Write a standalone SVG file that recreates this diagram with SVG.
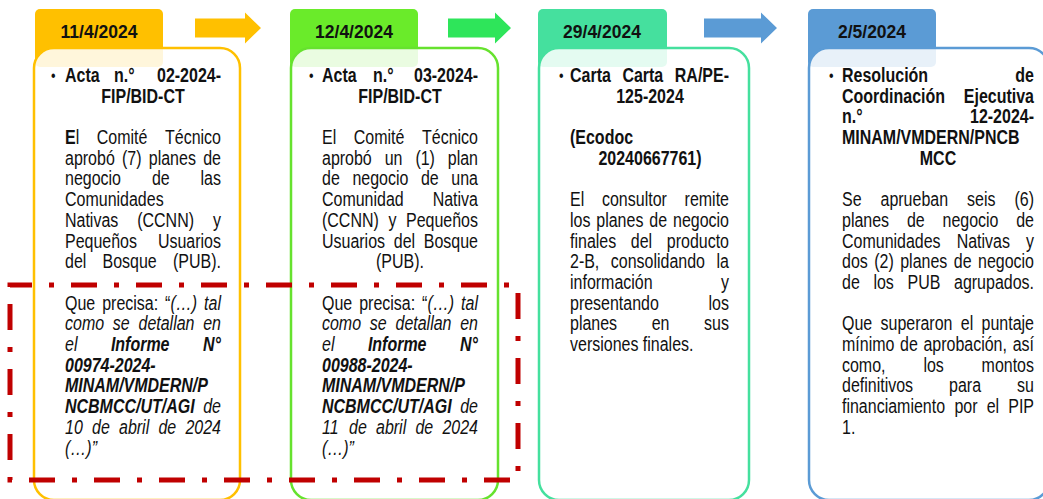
<svg xmlns="http://www.w3.org/2000/svg" width="1043" height="499" viewBox="0 0 1043 499">
<style>
.t{font-family:"Liberation Sans",Arial,sans-serif;font-size:16px;fill:#111}
.h{font-family:"Liberation Sans",Arial,sans-serif;font-size:17.5px;font-weight:bold;fill:#111;text-anchor:middle}
.b{font-weight:bold}
.i{font-style:italic}
.e{text-anchor:end}
.m{text-anchor:middle}
.bul{font-size:13px}
.card{fill:#fff;fill-opacity:0.86;stroke-width:2.5}
</style>
<rect width="1043" height="499" fill="#fff"/>
<g id="connectors">
<polygon points="195,18.5 245,18.5 245,12.5 261,28 245,43.5 245,37.5 195,37.5" fill="#FFC000"/>
<polygon points="448,18.5 495,18.5 495,12.5 511,28 495,43.5 495,37.5 448,37.5" fill="#2EE55A"/>
<polygon points="704,18.5 761,18.5 761,12.5 777,28 761,43.5 761,37.5 704,37.5" fill="#5B9BD5"/>
</g>
<g id="card1">
<rect x="35" y="9" width="128" height="58" rx="5" fill="#FFC000"/>
<text class="h" x="99" y="38">11/4/2024</text>
<rect class="card" x="34" y="48" width="206" height="452" rx="20" stroke="#FFC000"/>
<g transform="scale(1,1.22)">
<text class="t bul" x="51" y="66.4">•</text>
<text class="t b" x="65" y="67.21">Acta</text><text class="t b" x="114" y="67.21">n.°</text><text class="t b e" x="221" y="67.21">02-2024-</text>
<text class="t b m" x="143" y="84.18">FIP/BID-CT</text>
<text class="t" x="65" y="118.11"><tspan class="b">E</tspan>l</text><text class="t" x="96.8" y="118.11">Comité</text><text class="t e" x="221" y="118.11">Técnico</text>
<text class="t" x="65" y="135.08">aprobó</text><text class="t" x="122" y="135.08">(7)</text><text class="t" x="148.8" y="135.08">planes</text><text class="t e" x="221" y="135.08">de</text>
<text class="t" x="65" y="152.05">negocio</text><text class="t" x="151.9" y="152.05">de</text><text class="t e" x="221" y="152.05">las</text>
<text class="t" x="65" y="169.01">Comunidades</text>
<text class="t" x="65" y="185.98">Nativas</text><text class="t" x="137.2" y="185.98">(CCNN)</text><text class="t e" x="221" y="185.98">y</text>
<text class="t" x="65" y="202.95">Pequeños</text><text class="t e" x="221" y="202.95">Usuarios</text>
<text class="t" x="65" y="219.92">del</text><text class="t" x="102.5" y="219.92">Bosque</text><text class="t e" x="221" y="219.92">(PUB).</text>
<text class="t" x="65" y="253.85">Que</text><text class="t" x="102.2" y="253.85">precisa:</text><text class="t" x="165.1" y="253.85">“<tspan class="i">(…)</tspan></text><text class="t i e" x="221" y="253.85">tal</text>
<text class="t i" x="65" y="270.82">como</text><text class="t i" x="112.8" y="270.82">se</text><text class="t i" x="138.5" y="270.82">detallan</text><text class="t i e" x="221" y="270.82">en</text>
<text class="t i" x="65" y="287.78">el</text><text class="t i b" x="110.9" y="287.78">Informe</text><text class="t i b e" x="221" y="287.78">N°</text>
<text class="t i b" x="65" y="304.75">00974-2024-</text>
<text class="t i b" x="65" y="321.72">MINAM/VMDERN/P</text>
<text class="t i b" x="65" y="338.69">NCBMCC/UT/AGI</text><text class="t i e" x="221" y="338.69">de</text>
<text class="t i" x="65" y="355.65">10</text><text class="t i" x="92" y="355.65">de</text><text class="t i" x="119" y="355.65">abril</text><text class="t i" x="158.4" y="355.65">de</text><text class="t i e" x="221" y="355.65">2024</text>
<text class="t i" x="65" y="372.62">(…)”</text>
</g>
</g>
<g id="card2">
<rect x="290" y="9" width="128" height="58" rx="5" fill="#6AEB2A"/>
<text class="h" x="354" y="38">12/4/2024</text>
<rect class="card" x="291" y="48" width="207" height="452" rx="20" stroke="#66E22E"/>
<g transform="scale(1,1.22)">
<text class="t bul" x="309" y="66.4">•</text>
<text class="t b" x="322" y="67.21">Acta</text><text class="t b" x="373" y="67.21">n.°</text><text class="t b e" x="478" y="67.21">03-2024-</text>
<text class="t b m" x="400" y="84.18">FIP/BID-CT</text>
<text class="t" x="322" y="118.11">El</text><text class="t" x="353.8" y="118.11">Comité</text><text class="t e" x="478" y="118.11">Técnico</text>
<text class="t" x="322" y="135.08">aprobó</text><text class="t" x="384.7" y="135.08">un</text><text class="t" x="415.4" y="135.08">(1)</text><text class="t e" x="478" y="135.08">plan</text>
<text class="t" x="322" y="152.05">de</text><text class="t" x="352.4" y="152.05">negocio</text><text class="t" x="420.9" y="152.05">de</text><text class="t e" x="478" y="152.05">una</text>
<text class="t" x="322" y="169.01">Comunidad</text><text class="t e" x="478" y="169.01">Nativa</text>
<text class="t" x="322" y="185.98">(CCNN)</text><text class="t" x="388.4" y="185.98">y</text><text class="t e" x="478" y="185.98">Pequeños</text>
<text class="t" x="322" y="202.95">Usuarios</text><text class="t" x="393.8" y="202.95">del</text><text class="t e" x="478" y="202.95">Bosque</text>
<text class="t m" x="400" y="219.92">(PUB).</text>
<text class="t" x="322" y="253.85">Que</text><text class="t" x="359.2" y="253.85">precisa:</text><text class="t" x="422.1" y="253.85">“<tspan class="i">(…)</tspan></text><text class="t i e" x="478" y="253.85">tal</text>
<text class="t i" x="322" y="270.82">como</text><text class="t i" x="369.8" y="270.82">se</text><text class="t i" x="395.5" y="270.82">detallan</text><text class="t i e" x="478" y="270.82">en</text>
<text class="t i" x="322" y="287.78">el</text><text class="t i b" x="367.9" y="287.78">Informe</text><text class="t i b e" x="478" y="287.78">N°</text>
<text class="t i b" x="322" y="304.75">00988-2024-</text>
<text class="t i b" x="322" y="321.72">MINAM/VMDERN/P</text>
<text class="t i b" x="322" y="338.69">NCBMCC/UT/AGI</text><text class="t i e" x="478" y="338.69">de</text>
<text class="t i" x="322" y="355.65">11</text><text class="t i" x="349" y="355.65">de</text><text class="t i" x="376" y="355.65">abril</text><text class="t i" x="415.4" y="355.65">de</text><text class="t i e" x="478" y="355.65">2024</text>
<text class="t i" x="322" y="372.62">(…)”</text>
</g>
</g>
<g id="card3">
<rect x="538" y="9" width="129" height="58" rx="5" fill="#45E09E"/>
<text class="h" x="602" y="38">29/4/2024</text>
<rect class="card" x="539" y="48" width="210" height="452" rx="20" stroke="#45E09E"/>
<g transform="scale(1,1.22)">
<text class="t bul" x="559" y="66.4">•</text>
<text class="t b" x="570" y="67.21">Carta</text><text class="t b" x="622.4" y="67.21">Carta</text><text class="t b e" x="729" y="67.21">RA/PE-</text>
<text class="t b m" x="650" y="84.18">125-2024</text>
<text class="t b" x="570" y="118.11">(Ecodoc</text>
<text class="t b m" x="650" y="135.08">20240667761)</text>
<text class="t" x="570" y="169.01">El</text><text class="t" x="602" y="169.01">consultor</text><text class="t e" x="729" y="169.01">remite</text>
<text class="t" x="570" y="185.98">los</text><text class="t" x="596.3" y="185.98">planes</text><text class="t" x="649.3" y="185.98">de</text><text class="t e" x="729" y="185.98">negocio</text>
<text class="t" x="570" y="202.95">finales</text><text class="t" x="630.8" y="202.95">del</text><text class="t e" x="729" y="202.95">producto</text>
<text class="t" x="570" y="219.92">2-B,</text><text class="t" x="610.8" y="219.92">consolidando</text><text class="t e" x="729" y="219.92">la</text>
<text class="t" x="570" y="236.88">información</text><text class="t e" x="729" y="236.88">y</text>
<text class="t" x="570" y="253.85">presentando</text><text class="t e" x="729" y="253.85">los</text>
<text class="t" x="570" y="270.82">planes</text><text class="t" x="651.7" y="270.82">en</text><text class="t e" x="729" y="270.82">sus</text>
<text class="t" x="570" y="287.78">versiones finales.</text>
</g>
</g>
<g id="card4">
<rect x="808" y="9" width="128" height="58" rx="5" fill="#5B9BD5"/>
<text class="h" x="872" y="38">2/5/2024</text>
<rect class="card" x="809" y="48" width="240" height="452" rx="20" stroke="#5B9BD5"/>
<g transform="scale(1,1.22)">
<text class="t bul" x="829" y="66.4">•</text>
<text class="t b" x="842" y="67.21">Resolución</text><text class="t b e" x="1034" y="67.21">de</text>
<text class="t b" x="842" y="84.18">Coordinación</text><text class="t b e" x="1034" y="84.18">Ejecutiva</text>
<text class="t b" x="842" y="101.15">n.°</text><text class="t b e" x="1034" y="101.15">12-2024-</text>
<text class="t b" x="842" y="118.11">MINAM/VMDERN/PNCB</text>
<text class="t b m" x="938" y="135.08">MCC</text>
<text class="t" x="842" y="169.01">Se</text><text class="t" x="880.5" y="169.01">aprueban</text><text class="t" x="967" y="169.01">seis</text><text class="t e" x="1034" y="169.01">(6)</text>
<text class="t" x="842" y="185.98">planes</text><text class="t" x="906.9" y="185.98">de</text><text class="t" x="942.5" y="185.98">negocio</text><text class="t e" x="1034" y="185.98">de</text>
<text class="t" x="842" y="202.95">Comunidades</text><text class="t" x="956.7" y="202.95">Nativas</text><text class="t e" x="1034" y="202.95">y</text>
<text class="t" x="842" y="219.92">dos</text><text class="t" x="874.2" y="219.92">(2)</text><text class="t" x="900.2" y="219.92">planes</text><text class="t" x="953.8" y="219.92">de</text><text class="t e" x="1034" y="219.92">negocio</text>
<text class="t" x="842" y="236.88">de</text><text class="t" x="873.4" y="236.88">los</text><text class="t" x="907.5" y="236.88">PUB</text><text class="t e" x="1034" y="236.88">agrupados.</text>
<text class="t" x="842" y="270.82">Que</text><text class="t" x="880.5" y="270.82">superaron</text><text class="t" x="960.8" y="270.82">el</text><text class="t e" x="1034" y="270.82">puntaje</text>
<text class="t" x="842" y="287.78">mínimo</text><text class="t" x="900" y="287.78">de</text><text class="t" x="923.4" y="287.78">aprobación,</text><text class="t e" x="1034" y="287.78">así</text>
<text class="t" x="842" y="304.75">como,</text><text class="t" x="923.4" y="304.75">los</text><text class="t e" x="1034" y="304.75">montos</text>
<text class="t" x="842" y="321.72">definitivos</text><text class="t" x="949.1" y="321.72">para</text><text class="t e" x="1034" y="321.72">su</text>
<text class="t" x="842" y="338.69">financiamiento</text><text class="t" x="954.4" y="338.69">por</text><text class="t" x="986.7" y="338.69">el</text><text class="t e" x="1034" y="338.69">PIP</text>
<text class="t" x="842" y="355.65">1.</text>
</g>
</g>
<g id="highlight">
<rect x="10" y="285" width="508" height="195" fill="none" stroke="#C00000" stroke-width="5" stroke-dasharray="26 17 5 17" stroke-dashoffset="4"/>
</g>
</svg>
